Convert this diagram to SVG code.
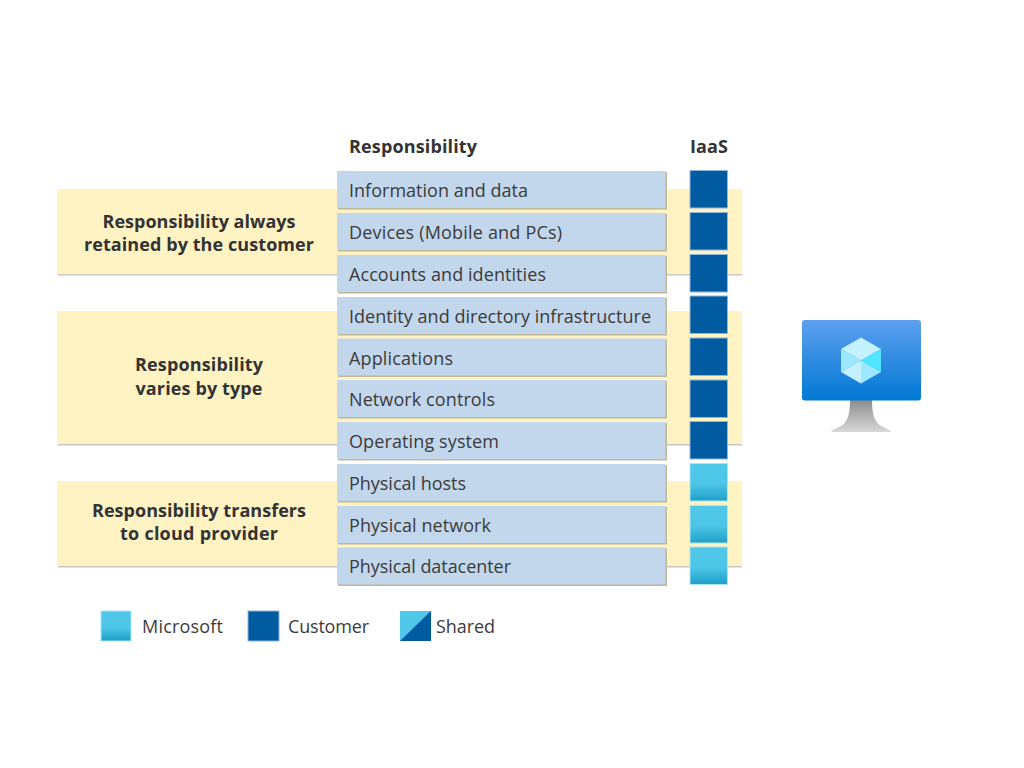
<svg xmlns="http://www.w3.org/2000/svg" width="1024" height="768" viewBox="0 0 1024 768">
<style>
text{font-family:"Open Sans","Noto Sans","Liberation Sans",sans-serif;fill:#333}
.h{font-size:18px;font-weight:700}
.l{font-size:18px;font-weight:700;text-anchor:middle}
.r{font-size:18px;fill:#3b3b3b}
.band{fill:#fff3c4}
.bs{fill:#c8c8c4}
.row{fill:#c2d6ec}
.rs{fill:#bdb89a}
.cu{fill:#005ba1;stroke:#8fb6dc;stroke-width:1}
.ms{fill:url(#ms);stroke:#a9e6f7;stroke-width:1}
</style>
<defs>
<linearGradient id="ms" x1="0" y1="0" x2="0" y2="1"><stop offset="0" stop-color="#50c8ea"/><stop offset=".55" stop-color="#4cc5e7"/><stop offset="1" stop-color="#1f9fc9"/></linearGradient>
<linearGradient id="scr" x1="0" y1="0" x2="0" y2="1"><stop offset="0" stop-color="#5ea0ef"/><stop offset="1" stop-color="#0078d4"/></linearGradient>
<linearGradient id="st" x1="0" y1="0" x2="0" y2="1"><stop offset="0" stop-color="#8c8c8c"/><stop offset="1" stop-color="#d8d8d8"/></linearGradient>
</defs>
<g id="bands">
<rect class="bs" x="58" y="273" width="684" height="2.500"/><rect class="band" x="57" y="189" width="685" height="85"/>
<rect class="bs" x="58" y="443" width="684" height="2.500"/><rect class="band" x="57" y="311" width="685" height="133"/>
<rect class="bs" x="58" y="565" width="684" height="2.500"/><rect class="band" x="57" y="481" width="685" height="85"/>
</g>
<text class="h" x="349" y="152.500" textLength="128">Responsibility</text>
<text class="h" x="690" y="152.500" textLength="38">IaaS</text>
<g id="label-retained"><text class="l" x="199" y="228" textLength="193">Responsibility always</text><text class="l" x="199" y="251" textLength="230">retained by the customer</text></g>
<g id="label-varies"><text class="l" x="199" y="371" textLength="128">Responsibility</text><text class="l" x="199" y="394.500" textLength="127">varies by type</text></g>
<g id="label-transfers"><text class="l" x="199" y="516.500" textLength="214">Responsibility transfers</text><text class="l" x="199" y="539.500" textLength="158">to cloud provider</text></g>
<g id="row-1"><rect class="rs" x="338" y="172" width="329" height="37.500"/><rect class="row" x="337" y="171" width="328.500" height="37"/><text class="r" x="349" y="197" textLength="179">Information and data</text></g>
<g id="row-2"><rect class="rs" x="338" y="214" width="329" height="37.500"/><rect class="row" x="337" y="213" width="328.500" height="37"/><text class="r" x="349" y="239" textLength="213">Devices (Mobile and PCs)</text></g>
<g id="row-3"><rect class="rs" x="338" y="256" width="329" height="37.500"/><rect class="row" x="337" y="255" width="328.500" height="37"/><text class="r" x="349" y="281" textLength="197">Accounts and identities</text></g>
<g id="row-4"><rect class="rs" x="338" y="298" width="329" height="37.500"/><rect class="row" x="337" y="297" width="328.500" height="37"/><text class="r" x="349" y="322.500" textLength="302">Identity and directory infrastructure</text></g>
<g id="row-5"><rect class="rs" x="338" y="339.500" width="329" height="37.500"/><rect class="row" x="337" y="338.500" width="328.500" height="37"/><text class="r" x="349" y="364.500" textLength="104">Applications</text></g>
<g id="row-6"><rect class="rs" x="338" y="381" width="329" height="37.500"/><rect class="row" x="337" y="380" width="328.500" height="37"/><text class="r" x="349" y="406" textLength="146">Network controls</text></g>
<g id="row-7"><rect class="rs" x="338" y="423" width="329" height="37.500"/><rect class="row" x="337" y="422" width="328.500" height="37"/><text class="r" x="349" y="448" textLength="150">Operating system</text></g>
<g id="row-8"><rect class="rs" x="338" y="465" width="329" height="37.500"/><rect class="row" x="337" y="464" width="328.500" height="37"/><text class="r" x="349" y="490" textLength="117">Physical hosts</text></g>
<g id="row-9"><rect class="rs" x="338" y="507" width="329" height="37.500"/><rect class="row" x="337" y="506" width="328.500" height="37"/><text class="r" x="349" y="531.500" textLength="142">Physical network</text></g>
<g id="row-10"><rect class="rs" x="338" y="548.500" width="329" height="37.500"/><rect class="row" x="337" y="547.500" width="328.500" height="37"/><text class="r" x="349" y="573" textLength="162">Physical datacenter</text></g>
<g id="iaas-cells">
<rect class="cu" x="690" y="170.500" width="37.500" height="37.500"/>
<rect class="cu" x="690" y="212.500" width="37.500" height="37.500"/>
<rect class="cu" x="690" y="254.500" width="37.500" height="37.500"/>
<rect class="cu" x="690" y="296" width="37.500" height="37.500"/>
<rect class="cu" x="690" y="338" width="37.500" height="37.500"/>
<rect class="cu" x="690" y="380" width="37.500" height="37.500"/>
<rect class="cu" x="690" y="421.500" width="37.500" height="37.500"/>
<rect class="ms" x="690" y="463.500" width="37.500" height="37.500"/>
<rect class="ms" x="690" y="505.500" width="37.500" height="37.500"/>
<rect class="ms" x="690" y="547" width="37.500" height="37.500"/>
</g>
<g id="vm-icon">
<path d="M850 400h22c0 16 3 22 9 26 6 3 9 4 10 6h-60c1-2 4-3 10-6 6-4 9-10 9-26z" fill="url(#st)"/>
<rect x="802" y="320" width="119" height="80.500" rx="3" fill="url(#scr)"/>
<path d="M861 337.500l20 11.500-20 11.500-20-11.500z" fill="#c3f1ff"/>
<path d="M841 349l20 11.500-20 11.500z" fill="#9ce9ff"/>
<path d="M881 349v23l-20-11.500z" fill="#50e6ff"/>
<path d="M861 360.500l20 11.500-20 11.500z" fill="#9ce9ff"/>
<path d="M861 360.500v23l-20-11.500z" fill="#c3f1ff"/>
</g>
<g id="legend">
<g id="legend-microsoft"><rect class="ms" x="101" y="611" width="30" height="30"/><text class="r" x="142" y="632.500" textLength="81">Microsoft</text></g>
<g id="legend-customer"><rect class="cu" x="248" y="611" width="31" height="30"/><text class="r" x="288" y="632.500" textLength="81">Customer</text></g>
<g id="legend-shared"><rect x="400" y="611" width="31" height="30" fill="#005ba1"/><path d="M400 611h31l-31 30z" fill="#4fc8ea"/><text class="r" x="436" y="632.500" textLength="59">Shared</text></g>
</g>
</svg>
